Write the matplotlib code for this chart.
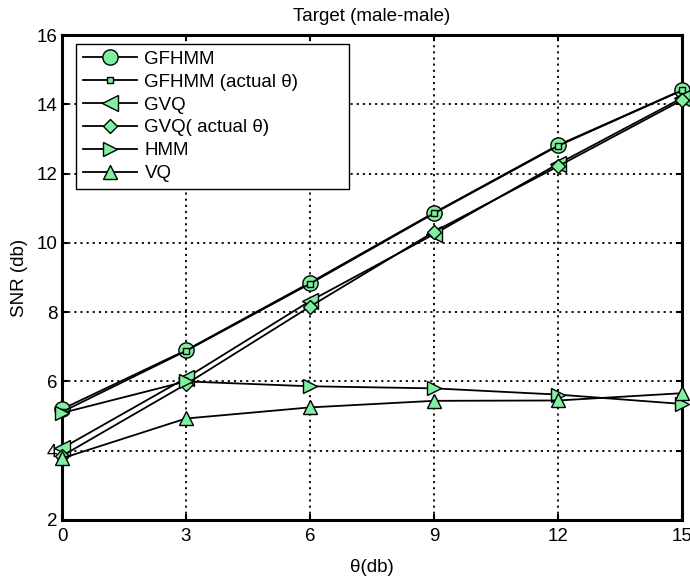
import numpy as np
import matplotlib
matplotlib.use("Agg")
from matplotlib import pyplot as plt

plt.rcParams['font.family'] = ['Liberation Sans', 'DejaVu Sans']

theta = [0, 3, 6, 9, 12, 15]
gfhmm = [5.2, 6.9, 8.85, 10.87, 12.82, 14.41]
gfhmm_actual = [5.12, 6.88, 8.82, 10.85, 12.8, 14.4]
gvq = [4.07, 6.1, 8.32, 10.25, 12.28, 14.18]
gvq_actual = [3.85, 5.92, 8.16, 10.32, 12.21, 14.12]
hmm = [5.09, 6.0, 5.86, 5.8, 5.62, 5.35]
vq = [3.78, 4.93, 5.25, 5.44, 5.45, 5.66]

labels = ["GFHMM", "GFHMM (actual \u03b8)", "GVQ", "GVQ( actual \u03b8)", "HMM", "VQ"]
series = [gfhmm, gfhmm_actual, gvq, gvq_actual, hmm, vq]
markers = ["o", "s", "<", "D", ">", "^"]
msizes = [11, 5, 11, 7.5, 9.5, 9.5]

face = '#80f0a0'
fs = 13.5

fig = plt.figure(figsize=(6.9, 5.79), dpi=100)
ax = fig.add_axes([62/690, 1-520/579, 620/690, 485/579])

for y, lab, m, ms in zip(series, labels, markers, msizes):
    ax.plot(theta, y, color='k', lw=1.3, marker=m, markersize=ms,
            markerfacecolor=face, markeredgecolor='k', markeredgewidth=1.0,
            label=lab, clip_on=False, zorder=3)

ax.set_xlim(0, 15)
ax.set_ylim(2, 16)
ax.set_xticks(theta)
ax.set_yticks([2, 4, 6, 8, 10, 12, 14, 16])
ax.grid(True, color='k', linestyle=(0, (1.2, 2.2)), lw=1.3)
ax.tick_params(direction='in', length=4, width=1.5, labelsize=fs, top=True, right=True)
ax.tick_params(axis='x', pad=6)
for s in ax.spines.values():
    s.set_linewidth(2.2)

ax.set_xlabel("\u03b8(db)", fontsize=fs, labelpad=10)
ax.set_ylabel("SNR (db)", fontsize=fs, labelpad=6)
ax.set_title("Target (male-male)", fontsize=fs, pad=10)

# legend box is wider than its text, like the original
leg = ax.legend(loc='upper left', bbox_to_anchor=(14/620, 0, 273/620, 1-9/485),
                mode='expand', fontsize=fs, fancybox=False, framealpha=1,
                edgecolor='k', handlelength=2.9, labelspacing=0.31,
                borderaxespad=0, borderpad=0.35, handletextpad=0.4)
leg.get_frame().set_linewidth(1.0)

fig.savefig("out.png", dpi=100)
